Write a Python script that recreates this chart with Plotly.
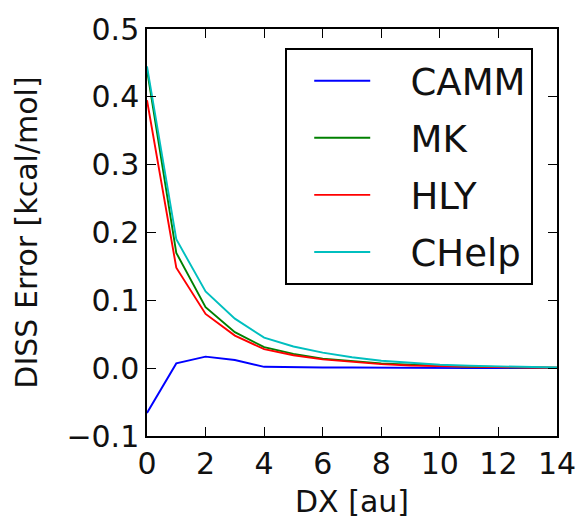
import plotly.graph_objects as go

dx = [0, 1, 2, 3, 4, 5, 6, 7, 8, 9, 10, 11, 12, 13, 14]
camm = [-0.066, 0.007, 0.017, 0.012, 0.002, 0.001, 0.001, 0.001, 0.0005, 0.0003, 0.0002, 0.0001, 0.0001, 0.0, 0.0]
mk = [0.44, 0.170, 0.090, 0.053, 0.031, 0.021, 0.014, 0.010, 0.007, 0.005, 0.003, 0.002, 0.0015, 0.001, 0.0008]
hly = [0.395, 0.148, 0.080, 0.048, 0.028, 0.019, 0.013, 0.009, 0.006, 0.004, 0.003, 0.002, 0.0013, 0.001, 0.0007]
chelp = [0.445, 0.190, 0.113, 0.073, 0.045, 0.032, 0.023, 0.016, 0.011, 0.008, 0.005, 0.0035, 0.0025, 0.0015, 0.001]

series = [("CAMM", camm, "#0000ff"), ("MK", mk, "#008000"),
          ("HLY", hly, "#ff0000"), ("CHelp", chelp, "#00bfbf")]

FONT = "DejaVu Sans"
NB = "\u00a0\u00a0\u00a0"
fig = go.Figure()
for name, ys, col in series:
    fig.add_trace(go.Scatter(x=dx, y=ys, mode="lines", name=NB + name,
                             legendgroup=name,
                             line=dict(color=col, width=1.9)))

axis_common = dict(showline=True, linecolor="black", linewidth=1.5, mirror="allticks",
                   ticks="inside", ticklen=9, tickwidth=1, tickcolor="black",
                   showgrid=False, zeroline=False,
                   tickfont=dict(family=FONT, size=30, color="#111"))

fig.update_xaxes(range=[0, 14], tickvals=[0, 2, 4, 6, 8, 10, 12, 14],
                 title=dict(text="DX [au]", font=dict(family=FONT, size=30, color="#111"), standoff=17),
                 **axis_common)
fig.update_yaxes(range=[-0.1, 0.5], tickvals=[-0.1, 0.0, 0.1, 0.2, 0.3, 0.4, 0.5], tickformat=".1f",
                 title=dict(text="DISS Error [kcal/mol]", font=dict(family=FONT, size=30, color="#111"), standoff=20),
                 **axis_common)

fig.update_layout(
    width=579, height=519,
    margin=dict(l=147, r=22, t=29, b=83, autoexpand=False),
    plot_bgcolor="white", paper_bgcolor="white",
    showlegend=True,
    legend=dict(x=0.942, y=0.953, xanchor="right", yanchor="top",
                bordercolor="black", borderwidth=2, bgcolor="white",
                font=dict(family=FONT, size=37, color="#111"),
                itemwidth=56, indentation=22, traceorder="grouped", tracegroupgap=6),
)

fig.write_html("out.html")
